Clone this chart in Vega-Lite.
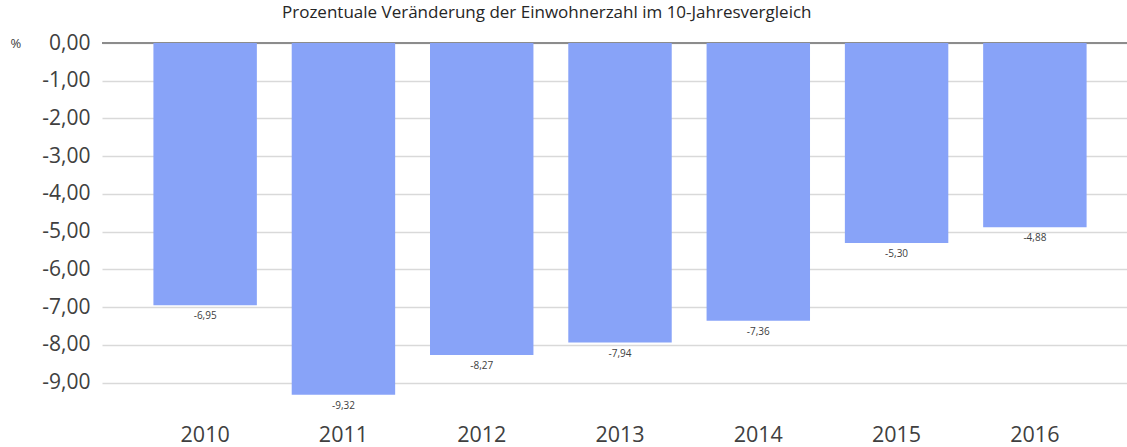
{
  "$schema": "https://vega.github.io/schema/vega-lite/v6.json",
  "width": 1025,
  "height": 366,
  "autosize": {"type": "none"},
  "padding": {"left": 102, "top": 43, "right": 0, "bottom": 38},
  "background": "white",
  "title": {
    "text": "Prozentuale Veränderung der Einwohnerzahl im 10-Jahresvergleich",
    "anchor": "start",
    "frame": "group",
    "dx": 180,
    "offset": 10,
    "font": "Open Sans",
    "fontSize": 17,
    "fontWeight": "normal",
    "color": "#262626"
  },
  "data": {
    "values": [
      {"year": "2010", "value": -6.95},
      {"year": "2011", "value": -9.32},
      {"year": "2012", "value": -8.27},
      {"year": "2013", "value": -7.94},
      {"year": "2014", "value": -7.36},
      {"year": "2015", "value": -5.30},
      {"year": "2016", "value": -4.88}
    ]
  },
  "encoding": {
    "x": {
      "field": "year",
      "type": "nominal",
      "sort": null,
      "scale": {"paddingInner": 0.252, "paddingOuter": 0.332, "align": 0.56},
      "axis": {
        "title": null,
        "labelAngle": 0,
        "ticks": false,
        "domain": false,
        "labelFont": "Open Sans",
        "labelFontSize": 21.5,
        "labelColor": "#404040",
        "labelPadding": 15
      }
    }
  },
  "layer": [
    {
      "mark": {"type": "rule", "color": "#8c8c8c", "strokeWidth": 2},
      "encoding": {"y": {"datum": 0, "type": "quantitative"}, "x": null}
    },
    {
      "mark": {"type": "bar", "color": "#88a3f8"},
      "encoding": {
        "y": {
          "field": "value",
          "type": "quantitative",
          "scale": {"domain": [-9.7, 0], "nice": false, "zero": false},
          "axis": {
            "title": "%",
            "titleAngle": 0,
            "titleX": -92,
            "titleY": 0,
            "titleAlign": "left",
            "titleBaseline": "middle",
            "titleFont": "Open Sans",
            "titleFontSize": 13,
            "titleFontWeight": "normal",
            "titleColor": "#404040",
            "values": [0, -1, -2, -3, -4, -5, -6, -7, -8, -9],
            "format": "0.2f",
            "ticks": false,
            "domain": false,
            "grid": true,
            "gridColor": "#d9d9d9",
            "gridWidth": 1.5,
            "labelFont": "Open Sans",
            "labelFontSize": 21,
            "labelColor": "#404040",
            "labelPadding": 12
          }
        }
      }
    },
    {
      "mark": {"type": "text", "baseline": "top", "dy": 6, "font": "Open Sans", "fontSize": 10, "color": "#404040"},
      "encoding": {
        "y": {"field": "value", "type": "quantitative"},
        "text": {"field": "value", "type": "quantitative", "format": "0.2f"}
      }
    }
  ],
  "config": {
    "view": {"stroke": null},
    "locale": {
      "number": {
        "decimal": ",",
        "thousands": ".",
        "grouping": [3],
        "currency": ["", " €"],
        "minus": "-"
      }
    }
  }
}
